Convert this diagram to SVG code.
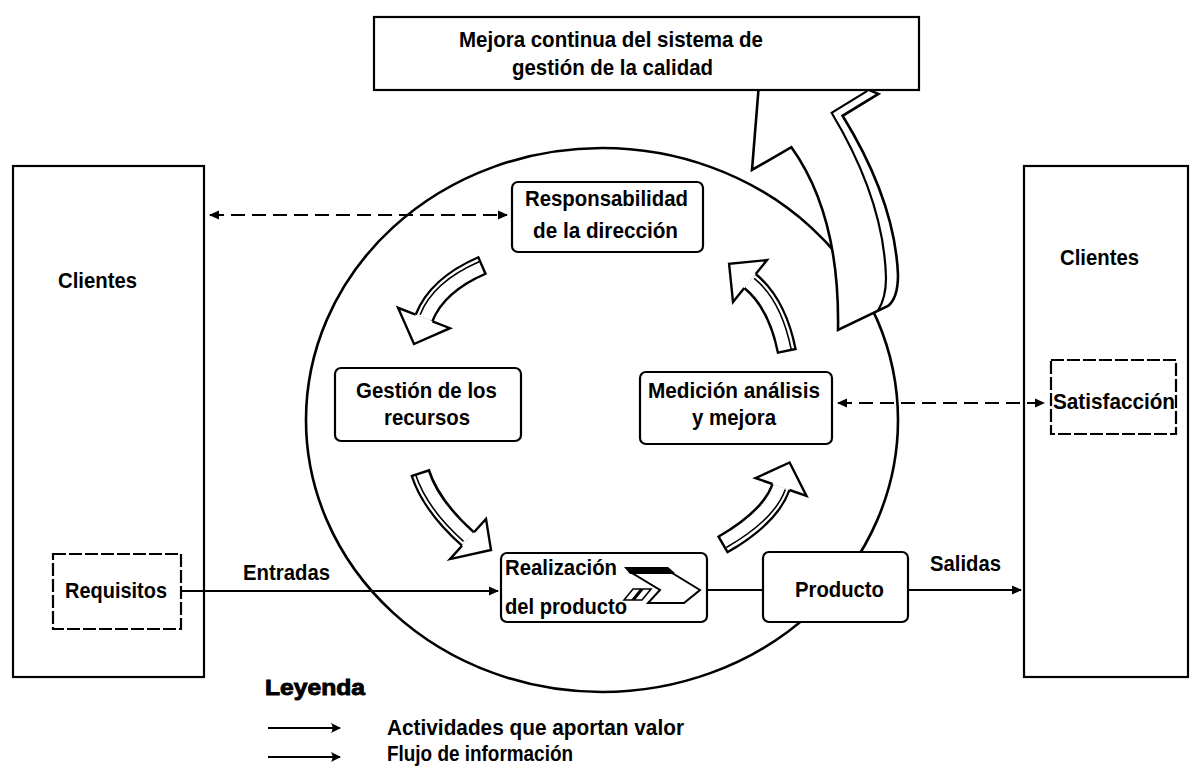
<svg xmlns="http://www.w3.org/2000/svg" width="1200" height="771" viewBox="0 0 1200 771">
<defs>
<marker id="ah" viewBox="0 0 10 10" refX="9" refY="5" markerWidth="11" markerHeight="10" markerUnits="userSpaceOnUse" orient="auto-start-reverse">
<path d="M0,0.5 L10,5 L0,9.5 Z" fill="#000"/>
</marker>
<marker id="ahl" viewBox="0 0 10 10" refX="9" refY="5" markerWidth="10" markerHeight="11" markerUnits="userSpaceOnUse" orient="auto">
<path d="M0,0 Q3,5 0,10 L10,5 Z" fill="#000"/>
</marker>
</defs>
<style>
.t{font-family:"Liberation Sans",Arial,sans-serif;font-weight:bold;font-size:22px;fill:#000}
.box{fill:#fff;stroke:#000;stroke-width:2.2}
.dbox{fill:#fff;stroke:#000;stroke-width:2.2;stroke-dasharray:13 3}
.ln{fill:none;stroke:#000;stroke-width:2.2}
.dash{fill:none;stroke:#000;stroke-width:2.2;stroke-dasharray:14 7}
.so{fill:none;stroke:#000;stroke-width:20.4}
.si{fill:none;stroke:#fff;stroke-width:15.6}
.sl{fill:none;stroke:#000;stroke-width:1.6}
.hd{fill:#fff;stroke:#000;stroke-width:2.4;stroke-linejoin:miter}
</style>
<rect x="0" y="0" width="1200" height="771" fill="#fff"/>

<!-- customer boxes -->
<g id="clientes-izq">
<rect class="box" x="13" y="166" width="191" height="511"/>
<text class="t" x="58" y="288" textLength="79" lengthAdjust="spacingAndGlyphs">Clientes</text>
</g>
<g id="requisitos">
<rect class="dbox" x="53" y="554" width="128" height="75"/>
<text class="t" x="65" y="598" textLength="102" lengthAdjust="spacingAndGlyphs">Requisitos</text>
</g>
<g id="clientes-der">
<rect class="box" x="1024" y="166" width="164" height="511"/>
<text class="t" x="1060" y="265" textLength="79" lengthAdjust="spacingAndGlyphs">Clientes</text>
</g>
<g id="satisfaccion">
<rect class="dbox" x="1051" y="360" width="125" height="74"/>
<text class="t" x="1053" y="409" textLength="122" lengthAdjust="spacingAndGlyphs">Satisfacción</text>
</g>

<!-- process cycle -->
<g id="ciclo">
<ellipse cx="602" cy="420" rx="296" ry="272" fill="none" stroke="#000" stroke-width="2.6"/>
</g>

<!-- large improvement arrow -->
<g id="flecha-mejora">
<path d="M838,330 Q840,215 791.4,147.2 L752,170 L762,46.2 L878.4,93.9 L842.6,115.8 Q895,201 898,275 Q898,298 888,306 Z" fill="#fff" stroke="#000" stroke-width="2.6" stroke-linejoin="miter"/>
<path d="M878,310.5 Q886,298 886,278 Q884,200 831.6,112.8 L867.4,90.9" fill="none" stroke="#000" stroke-width="2.2"/>
</g>

<g id="mejora-continua">
<rect class="box" x="374" y="17" width="545" height="73"/>
<text class="t" x="459" y="47" textLength="304" lengthAdjust="spacingAndGlyphs">Mejora continua del sistema de</text>
<text class="t" x="512" y="75" textLength="201" lengthAdjust="spacingAndGlyphs">gestión de la calidad</text>
</g>

<g id="responsabilidad">
<rect class="box" x="512" y="182" width="191" height="70" rx="6"/>
<text class="t" x="525" y="206" textLength="163" lengthAdjust="spacingAndGlyphs">Responsabilidad</text>
<text class="t" x="533" y="238" textLength="145" lengthAdjust="spacingAndGlyphs">de la dirección</text>
</g>
<g id="gestion-recursos">
<rect class="box" x="335" y="368" width="186" height="73" rx="6"/>
<text class="t" x="356" y="398" textLength="141" lengthAdjust="spacingAndGlyphs">Gestión de los</text>
<text class="t" x="384" y="425" textLength="86" lengthAdjust="spacingAndGlyphs">recursos</text>
</g>
<g id="medicion">
<rect class="box" x="640" y="372" width="192" height="72" rx="6"/>
<text class="t" x="648" y="398" textLength="172" lengthAdjust="spacingAndGlyphs">Medición análisis</text>
<text class="t" x="692" y="425" textLength="84" lengthAdjust="spacingAndGlyphs">y mejora</text>
</g>
<g id="realizacion">
<rect class="box" x="501" y="553" width="206" height="69" rx="6"/>
<path d="M624,567 L668,567 L675,573 L630,574 Z" fill="#000"/>
<path d="M632,573 L672,573 L700,590 L684,603 L648,603 L660,590 Z" fill="#fff" stroke="#000" stroke-width="2"/>
<path d="M624,600 L633,589 L641,589 L632,600 Z M634,600 L643,589 L651,589 L642,600 Z" fill="#fff" stroke="#000" stroke-width="1.6"/>
<text class="t" x="505" y="575" textLength="112" lengthAdjust="spacingAndGlyphs">Realización</text>
<text class="t" x="505" y="614" textLength="122" lengthAdjust="spacingAndGlyphs">del producto</text>
</g>
<g id="producto">
<rect class="box" x="763" y="552" width="145" height="70" rx="6"/>
<text class="t" x="795" y="597" textLength="89" lengthAdjust="spacingAndGlyphs">Producto</text>
</g>

<!-- curved arrows of the cycle -->
<g id="flecha-a">
<path class="so" d="M483,265 Q437,285 424,318"/>
<path class="si" d="M480.8,266 Q437,285 424,318"/>
<path class="sl" d="M479.1,261.8 Q433.1,281.8 420.1,314.8"/>
<path class="hd" d="M432.4,321.3 L450,328.2 L414,344 L398,307.8 L415.6,314.7"/>
</g>
<g id="flecha-b">
<path class="so" d="M420,472 Q431,506 468,539"/>
<path class="si" d="M420.7,474.3 Q431,506 468,539"/>
<path class="sl" d="M415.5,474.3 Q426.5,508.3 463.5,541.3"/>
<path class="hd" d="M474,532.3 L486,518.9 L491,550 L450,559.1 L462,545.7"/>
</g>
<g id="flecha-c">
<path class="so" d="M722,545 Q770.5,517 781,487"/>
<path class="si" d="M724.1,543.8 Q770.5,517 781,487"/>
<path class="sl" d="M726.3,547.5 Q774.8,519.5 785.3,489.5"/>
<path class="hd" d="M789.5,490 L806.5,495.9 L789.6,462.5 L755.5,478.1 L772.5,484"/>
</g>
<g id="flecha-d">
<path class="so" d="M787,352 Q777,303 750,281"/>
<path class="si" d="M786.5,349.6 Q777,303 750,281"/>
<path class="sl" d="M791.2,349.3 Q781.2,300.3 754.2,278.3"/>
<path class="hd" d="M755.7,274 L767,260.1 L729.1,263.9 L733,301.9 L744.3,288"/>
</g>

<!-- connectors -->
<g id="conectores">
<path class="dash" d="M210,215 H507" marker-start="url(#ah)" marker-end="url(#ah)"/>
<path class="dash" d="M838,403 H1044" marker-start="url(#ah)" marker-end="url(#ah)"/>
<path class="ln" d="M181,591 H498" marker-end="url(#ah)"/>
<path class="ln" d="M707,590 H763"/>
<path class="ln" d="M908,590 H1021" marker-end="url(#ah)"/>
<text class="t" x="243" y="580" textLength="87" lengthAdjust="spacingAndGlyphs">Entradas</text>
<text class="t" x="930" y="571" textLength="71" lengthAdjust="spacingAndGlyphs">Salidas</text>
</g>

<!-- legend -->
<g id="leyenda">
<text class="t" x="265" y="695" font-size="19" stroke="#000" stroke-width="0.9" textLength="100" lengthAdjust="spacingAndGlyphs">Leyenda</text>
<path class="ln" d="M268,728 H340" stroke-width="3" marker-end="url(#ahl)"/>
<text class="t" x="387" y="735" textLength="297" lengthAdjust="spacingAndGlyphs">Actividades que aportan valor</text>
<path class="ln" d="M268,757 H340" stroke-width="3" marker-end="url(#ahl)"/>
<text class="t" x="387" y="761" textLength="186" lengthAdjust="spacingAndGlyphs">Flujo de información</text>
</g>
</svg>
